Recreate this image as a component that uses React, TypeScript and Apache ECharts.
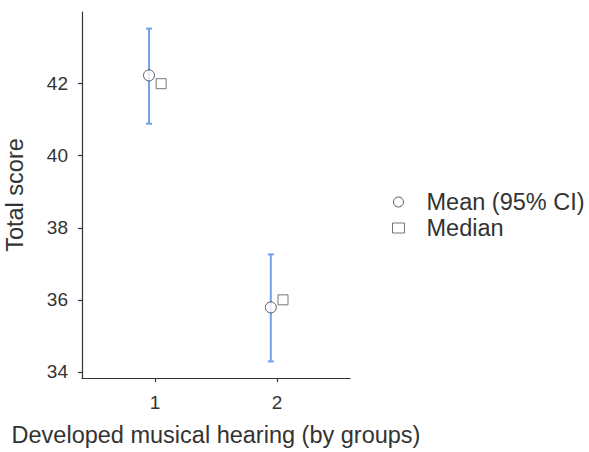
import React, { useEffect, useRef } from "react";
import * as echarts from "echarts";

const groups = [1, 2];
const meanValues = [42.23, 35.79];
const ciLower = [40.89, 34.29];
const ciUpper = [43.53, 37.26];
const medianValues = [42, 36];
const yTicks = [34, 36, 38, 40, 42];
const xTicks = [1, 2];
const dodge = 0.05;

const FONT = "'Liberation Sans', Arial, sans-serif";

export default function App() {
  const ref = useRef<HTMLDivElement>(null);
  useEffect(() => {
    if (!ref.current) return;
    const chart = echarts.init(ref.current, null, { renderer: "svg" });
    const meanData = groups.map((g, i) => [g - dodge, meanValues[i]]);
    const medianData = groups.map((g, i) => [g + dodge, medianValues[i]]);
    const errData = groups.map((g, i) => [g - dodge, ciLower[i], ciUpper[i]]);
    chart.setOption({
      animation: false,
      textStyle: { fontFamily: FONT },
      grid: { left: 82, top: 12, right: 239, bottom: 72, containLabel: false },
      legend: {
        orient: "vertical",
        left: 387,
        top: 185,
        itemGap: 2,
        itemWidth: 12,
        itemHeight: 10,
        selectedMode: false,
        data: [
          { name: "Mean (95% CI)", icon: "circle", itemStyle: { color: "#fff", borderColor: "#333", borderWidth: 1 } },
          { name: "Median", icon: "rect", itemStyle: { color: "#fff", borderColor: "#555", borderWidth: 1 } },
        ],
        textStyle: { fontSize: 23.5, color: "#333", fontFamily: FONT, padding: [0, 0, 0, 17] },
      },
      xAxis: {
        type: "value",
        min: 0.4,
        max: 2.6,
        name: "Developed musical hearing (by groups)",
        nameLocation: "middle",
        nameGap: 45,
        nameTextStyle: { fontSize: 23.5, color: "#333", fontFamily: FONT },
        axisLine: { show: true, lineStyle: { color: "#333", width: 1.2 } },
        axisTick: { show: true, length: 4, customValues: xTicks, lineStyle: { color: "#333", width: 1.2 } },
        axisLabel: { customValues: xTicks, fontSize: 19, color: "#333", margin: 15, fontFamily: FONT },
        splitLine: { show: false },
      },
      yAxis: {
        type: "value",
        min: 33.83,
        max: 43.99,
        name: "Total score",
        nameLocation: "middle",
        nameGap: 55,
        nameRotate: 90,
        nameTextStyle: { fontSize: 23.5, color: "#333", fontFamily: FONT },
        axisLine: { show: true, lineStyle: { color: "#333", width: 1.2 } },
        axisTick: { show: true, length: 4, customValues: yTicks, lineStyle: { color: "#333", width: 1.2 } },
        axisLabel: { customValues: yTicks, fontSize: 19, color: "#333", margin: 14, fontFamily: FONT },
        splitLine: { show: false },
      },
      series: [
        {
          type: "custom",
          name: "ci",
          data: errData,
          z: 1,
          renderItem: (params: any, api: any) => {
            const x = api.value(0);
            const lo = api.coord([x, api.value(1)]);
            const hi = api.coord([x, api.value(2)]);
            const cap = 3;
            const style = { stroke: "#73a2ea", lineWidth: 2 };
            return {
              type: "group",
              children: [
                { type: "line", shape: { x1: lo[0], y1: lo[1], x2: hi[0], y2: hi[1] }, style },
                { type: "line", shape: { x1: lo[0] - cap, y1: lo[1], x2: lo[0] + cap, y2: lo[1] }, style },
                { type: "line", shape: { x1: hi[0] - cap, y1: hi[1], x2: hi[0] + cap, y2: hi[1] }, style },
              ],
            };
          },
        },
        {
          type: "scatter",
          name: "Mean (95% CI)",
          data: meanData,
          symbol: "circle",
          symbolSize: 11,
          z: 3,
          itemStyle: { color: "#fff", borderColor: "#333", borderWidth: 1 },
        },
        {
          type: "scatter",
          name: "Median",
          data: medianData,
          symbol: "rect",
          symbolSize: 10,
          z: 3,
          itemStyle: { color: "#fff", borderColor: "#555", borderWidth: 1 },
        },
      ],
    });
    return () => chart.dispose();
  }, []);
  return <div ref={ref} style={{ width: 589, height: 452, position: "absolute", left: 0, top: 0, background: "#fff" }} />;
}
